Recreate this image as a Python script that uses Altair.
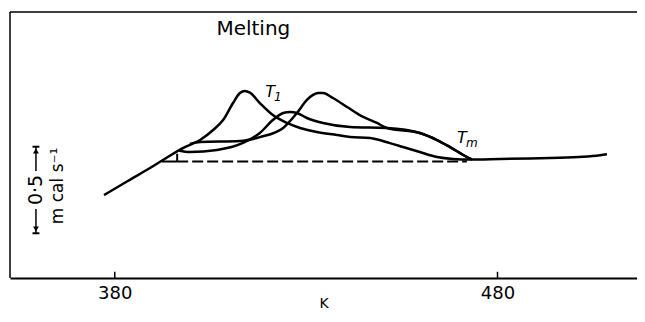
import altair as alt
import pandas as pd

# ---- data (x in K, y in mcal s^-1 above the dashed baseline)
c1_k = [377.2, 383.4, 389.2, 392.6, 397.8, 402.3, 405.7, 408.3, 410.9, 412.7, 414.0, 415.3, 417.9,
        421.3, 425.0, 428.4, 432.8, 438.1, 441.5, 446.7, 451.9, 455.3, 459.7, 464.2, 468.4, 472.8,
        480.7, 488.5, 493.7, 502.3, 506.8, 508.6]
c1_y = [-0.195, -0.113, -0.038, 0.009, 0.078, 0.125, 0.183, 0.241, 0.340, 0.398, 0.410, 0.400, 0.340,
        0.270, 0.224, 0.195, 0.172, 0.154, 0.142, 0.136, 0.107, 0.084, 0.055, 0.026, 0.015, 0.012,
        0.015, 0.018, 0.021, 0.027, 0.036, 0.042]
c2_k = [396.8, 399.6, 406.7, 413.5, 417.9, 421.3, 424.0, 425.8, 427.6, 430.2, 434.4, 441.5, 451.1,
        459.7, 464.2, 467.6, 472.0, 473.3]
c2_y = [0.064, 0.055, 0.067, 0.108, 0.166, 0.241, 0.282, 0.288, 0.282, 0.253, 0.224, 0.201, 0.195,
        0.166, 0.125, 0.084, 0.026, 0.012]
c3_k = [399.6, 402.3, 412.7, 417.9, 424.0, 427.6, 430.2, 431.8, 433.1, 434.4, 437.0, 440.7, 444.9,
        448.5, 451.1, 459.7, 464.2, 467.6, 472.0, 473.3]
c3_y = [0.102, 0.113, 0.119, 0.142, 0.195, 0.282, 0.358, 0.387, 0.398, 0.398, 0.369, 0.317, 0.259,
        0.224, 0.195, 0.166, 0.125, 0.084, 0.026, 0.012]

tick_values = [380, 480]
baseline_start, baseline_tick, baseline_end = 392.3, 396.3, 472.0
scale_bar_k = 359.4
scale_bar_top, scale_bar_bottom = 0.086, -0.417
scale_bar_value = "0·5"
scale_bar_unit = "m cal s⁻¹"

X_DOMAIN = [352.62, 516.45]
Y_DOMAIN = [-0.677, 0.869]
W, H = 627, 266
FONT = "DejaVu Sans"

rows = []
for name, ks, ys in [("c1", c1_k, c1_y), ("c2", c2_k, c2_y), ("c3", c3_k, c3_y)]:
    for i, (k, y) in enumerate(zip(ks, ys)):
        rows.append({"series": name, "k": k, "y": y, "i": i})
curves = pd.DataFrame(rows)

xs = alt.Scale(domain=X_DOMAIN, nice=False, zero=False)
ys_ = alt.Scale(domain=Y_DOMAIN, nice=False, zero=False)

x_axis = alt.Axis(values=tick_values, tickSize=0, grid=False, domainColor="black", domainWidth=2,
                  labelFontSize=18, labelColor="black", labelFont=FONT, labelPadding=6,
                  title="K", titleFontSize=14, titleFontWeight="normal", titleFont=FONT,
                  titleColor="black", titlePadding=-6, labelFlush=False)

lines = alt.Chart(curves).mark_line(color="black", strokeWidth=2.5, interpolate="monotone").encode(
    x=alt.X("k:Q", scale=xs, axis=x_axis),
    y=alt.Y("y:Q", scale=ys_, axis=None),
    detail="series:N",
    order="i:Q",
)


def hrule(df, **kw):
    return alt.Chart(df).mark_rule(color="black", **kw).encode(
        x=alt.X("k:Q", scale=xs), x2="k2:Q", y=alt.Y("y:Q", scale=ys_))


def vrule(df, **kw):
    return alt.Chart(df).mark_rule(color="black", **kw).encode(
        x=alt.X("k:Q", scale=xs), y=alt.Y("y:Q", scale=ys_), y2="y2:Q")


dashed = hrule(pd.DataFrame({"k": [baseline_tick], "k2": [baseline_end], "y": [0.0]}),
               strokeWidth=2, strokeDash=[11, 4])
tri_base = hrule(pd.DataFrame({"k": [baseline_start], "k2": [baseline_tick], "y": [0.0]}), strokeWidth=2)
tri_v = vrule(pd.DataFrame({"k": [baseline_tick], "y": [0.0], "y2": [0.045]}), strokeWidth=2)

# frame
top_border = hrule(pd.DataFrame({"k": [X_DOMAIN[0]], "k2": [X_DOMAIN[1]], "y": [Y_DOMAIN[1]]}), strokeWidth=1.5)
left_border = vrule(pd.DataFrame({"k": [X_DOMAIN[0]], "y": [Y_DOMAIN[0]], "y2": [Y_DOMAIN[1]]}), strokeWidth=1.5)
ticks = vrule(pd.DataFrame({"k": tick_values, "y": [Y_DOMAIN[0]] * 2, "y2": [Y_DOMAIN[0] + 0.036] * 2}),
              strokeWidth=1.5)

# scale bar
caps = hrule(pd.DataFrame({"k": [scale_bar_k - 0.9] * 2, "k2": [scale_bar_k + 0.9] * 2,
                           "y": [scale_bar_top, scale_bar_bottom]}), strokeWidth=2)
mid = (scale_bar_top + scale_bar_bottom) / 2
segs = vrule(pd.DataFrame({"k": [scale_bar_k] * 2, "y": [scale_bar_top, mid - 0.11],
                           "y2": [mid + 0.11, scale_bar_bottom]}), strokeWidth=1.5)
arrow_up = alt.Chart(pd.DataFrame({"k": [scale_bar_k], "y": [scale_bar_top - 0.025]})).mark_point(
    filled=True, color="black", size=35, opacity=1, shape="triangle-up").encode(
    x=alt.X("k:Q", scale=xs), y=alt.Y("y:Q", scale=ys_))
arrow_down = alt.Chart(pd.DataFrame({"k": [scale_bar_k], "y": [scale_bar_bottom + 0.025]})).mark_point(
    filled=True, color="black", size=35, opacity=1, shape="triangle-down").encode(
    x=alt.X("k:Q", scale=xs), y=alt.Y("y:Q", scale=ys_))


def label(df, **kw):
    return alt.Chart(df).mark_text(font=FONT, color="black", **kw).encode(
        x=alt.X("k:Q", scale=xs), y=alt.Y("y:Q", scale=ys_), text="t:N")


val_txt = label(pd.DataFrame({"k": [scale_bar_k], "y": [mid], "t": [scale_bar_value]}),
                angle=270, fontSize=19, align="center", baseline="middle")
unit_txt = label(pd.DataFrame({"k": [365.2], "y": [-0.142], "t": [scale_bar_unit]}),
                 angle=270, fontSize=17, align="center", baseline="middle")

# annotations
melt = label(pd.DataFrame({"k": [416.2], "y": [0.735], "t": ["Melting"]}),
             fontSize=20, align="center", baseline="alphabetic")
lab_T = label(pd.DataFrame({"k": [420.6, 470.7], "y": [0.375, 0.108], "t": ["T", "T"]}),
              fontSize=16, fontStyle="italic", align="center", baseline="alphabetic")
lab_sub = label(pd.DataFrame({"k": [422.6, 473.3], "y": [0.352, 0.084], "t": ["1", "m"]}),
                fontSize=12, fontStyle="italic", align="center", baseline="alphabetic")

chart = alt.layer(
    lines, dashed, tri_base, tri_v, top_border, left_border, ticks,
    caps, segs, arrow_up, arrow_down, val_txt, unit_txt, melt, lab_T, lab_sub
).properties(
    width=W, height=H,
    autosize=alt.AutoSizeParams(type="none"),
    padding={"left": 2, "top": 4, "right": 0, "bottom": 32},
    background="white",
).configure_view(stroke=None)

chart.save("out.html", embed_options={"renderer": "svg", "actions": False})
